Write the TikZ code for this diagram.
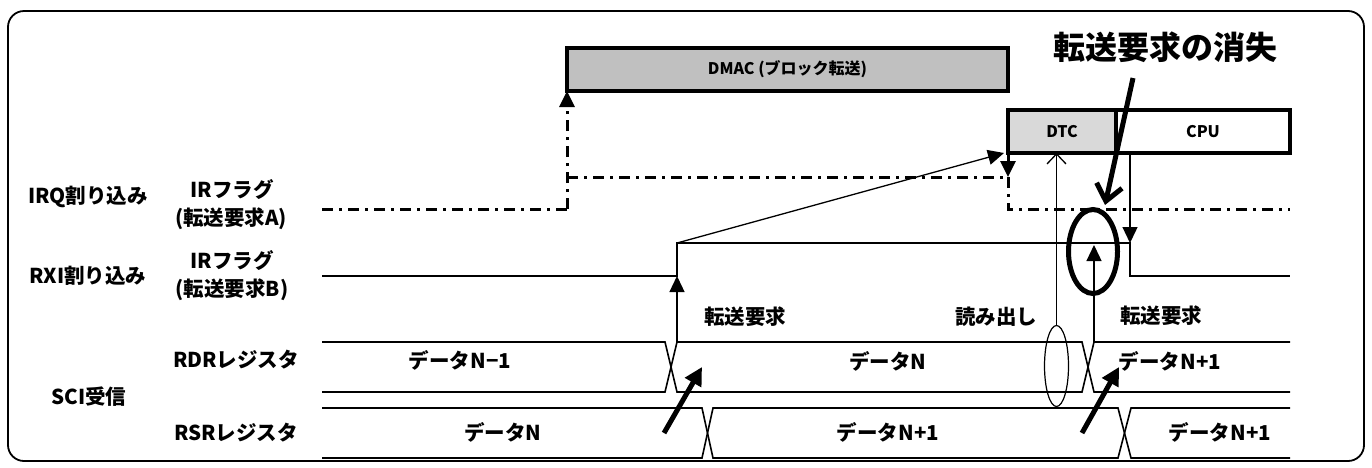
\documentclass[tikz,border=0pt]{standalone}
\usepackage{fontspec}
\setmainfont{Noto Sans CJK JP}
\usetikzlibrary{arrows.meta,shapes.geometric}
\begin{document}
\begin{tikzpicture}[x=1pt,y=-1pt,
  lbl/.style={font=\fontsize{20.5}{22}\selectfont\bfseries, inner sep=0pt, text height=0.86em, text depth=0.14em},
  boxlbl/.style={font=\fontsize{16}{18}\selectfont\bfseries},
  sig/.style={line width=1.6pt},
  dd/.style={line width=3pt, dash pattern=on 11pt off 6pt on 3pt off 6pt},
  tri/.style={-{Triangle[length=16pt,width=15pt]}},
  thickarrow/.style={line width=5pt, -{Triangle[length=18pt,width=18pt]}},
  unitbox/.style={draw, line width=4pt, outer sep=0pt, inner sep=0pt, minimum height=43pt}
]
\useasboundingbox (0,0) rectangle (1372,467);
\draw[line width=1.8pt, rounded corners=16pt] (8,11) rectangle (1364,461);

% boxes
\node[unitbox, fill={rgb,255:red,192;green,192;blue,192}, minimum width=441pt] (dmac) at (787.5,69.5) {};
\node[boxlbl] (dmact) at (dmac.center) {DMAC (ブロック転送)};
\node[unitbox, fill={rgb,255:red,217;green,217;blue,217}, minimum width=108pt] (dtc) at (1062,131.5) {};
\node[boxlbl] (dtct) at (dtc.center) {DTC};
\node[unitbox, fill=white, minimum width=174pt] (cpu) at (1203,131.5) {};
\node[boxlbl] (cput) at (cpu.center) {CPU};

% title
\node[font=\fontsize{32}{35}\selectfont\bfseries, inner sep=0pt] (title) at (1165,47) {転送要求の消失};

% left labels
\node[lbl] (irq) at (88,200) {IRQ割り込み};
\node[lbl] (irfa) at (232,194) {IRフラグ};
\node[lbl] (reqa) at (231,222) {(転送要求A)};
\node[lbl] (rxi) at (88,280) {RXI割り込み};
\node[lbl] (irfb) at (232,265) {IRフラグ};
\node[lbl] (reqb) at (232,293) {(転送要求B)};
\node[lbl] (sci) at (89,401) {SCI受信};
\node[lbl] (rdr) at (236,364) {RDRレジスタ};
\node[lbl] (rsr) at (236,437) {RSRレジスタ};

% data labels
\node[lbl] (d1) at (460,365) {データN−1};
\node[lbl] (d2) at (888,366) {データN};
\node[lbl] (d3) at (1170,366) {データN+1};
\node[lbl] (d4) at (503,437) {データN};
\node[lbl] (d5) at (888,437) {データN+1};
\node[lbl] (d6) at (1220,437) {データN+1};
\node[lbl] (t1) at (745,321) {転送要求};
\node[lbl] (t2) at (996,321) {読み出し};
\node[lbl] (t3) at (1161,320) {転送要求};

% coordinates
\coordinate (irqL) at (322,209);
\coordinate (irqUp) at (567,209);
\coordinate (irqHi) at (567,177);
\coordinate (irqHiE) at (1008,177);
\coordinate (irqDn) at (1008,209);
\coordinate (irqR) at (1290,209);
\coordinate (rxiRise) at (677,243);
\coordinate (rxiLow) at (677,276);
\coordinate (rdrA) at (677,342);
\coordinate (rdrB) at (1094,342);
\coordinate (rxiHiB) at (1094,245);
\coordinate (cpuFall) at (1130,243);
\coordinate (dtcHit) at (1004,153);

% IRQ flag (dash-dot)
\draw[dd] (irqL) -- (irqUp);
\draw[dd, tri] (irqUp) -- (dmac.south west);
\draw[dd] (irqHi) -- (irqHiE);
\draw[dd, tri] (dtc.south west) -- (irqHiE);
\draw[dd] (irqHiE) -- (irqDn) -- (irqR);

% RXI flag
\draw[sig] (322,276) -- (rxiLow) -- (rxiRise) -- (cpuFall) -- (1130,276) -- (1290,276);
\draw[line width=1.3pt, tri] (rxiRise) -- (dtcHit);
\draw[line width=1.3pt, tri] (rdrA) -- (rxiLow);
\draw[line width=1.3pt, tri] (cpu.south west -| cpuFall) -- (cpuFall);

% RDR register
\draw[sig] (322,342) -- (665,342) -- (677,392) -- (1082,392) -- (1094,342) -- (1290,342);
\draw[sig] (322,392) -- (665,392) -- (677,342) -- (1082,342) -- (1094,392) -- (1290,392);
% RSR register
\draw[sig] (322,408) -- (702,408) -- (713,458) -- (1118,458) -- (1131,408) -- (1290,408);
\draw[sig] (322,458) -- (702,458) -- (713,408) -- (1118,408) -- (1131,458) -- (1290,458);

% read (small ellipse + open arrow to DTC)
\node[draw, ellipse, line width=1.2pt, minimum width=24pt, minimum height=81pt, inner sep=0pt] (rd) at (1056.5,366) {};
\draw[line width=1.3pt, -{Straight Barb[length=10pt,width=19pt]}] (rd.north) -- (rd.north |- dtc.south);

% lost request
\draw[line width=1.3pt, tri] (rdrB) -- (rxiHiB);
\node[draw, ellipse, line width=5pt, minimum width=49pt, minimum height=84pt, inner sep=0pt] (lost) at (1093,251.5) {};
\coordinate (bigTail) at (1133,78);
\coordinate (bigTip) at (1105,205);
\draw[line width=5pt, -{Straight Barb[length=16pt,width=26pt]}] (bigTail) -- (bigTip);

% thick arrows into the data
\coordinate (a1t) at (664,433);
\coordinate (a1h) at (702,367);
\coordinate (a2t) at (1082,433);
\coordinate (a2h) at (1119,367);
\draw[thickarrow] (a1t) -- (a1h);
\draw[thickarrow] (a2t) -- (a2h);
\end{tikzpicture}
\end{document}
